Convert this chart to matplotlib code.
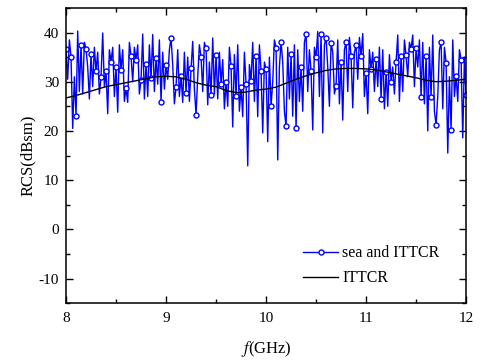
import numpy as np
import matplotlib
matplotlib.use("Agg")
import matplotlib.pyplot as plt
from matplotlib.ticker import MultipleLocator

plt.rcParams['font.family'] = ['Liberation Serif', 'DejaVu Serif']
plt.rcParams['mathtext.fontset'] = 'stix'
plt.rcParams['axes.unicode_minus'] = False

# Frequency grid for the noisy series (GHz): markers every 0.05 GHz,
# two samples between consecutive markers
f_start, marker_step = 8.0, 0.05

# Values at marker positions (every 0.05 GHz)
sea_marked = [36.7, 35.0, 23.1, 37.5, 36.7, 35.6, 32.1, 31.0, 32.1, 34.1,
              33.0, 32.4, 28.7, 35.2, 34.4, 30.4, 33.6, 30.7, 34.8, 25.9,
              33.3, 38.9, 29.0, 31.2, 27.7, 32.7, 23.3, 35.1, 36.8, 27.3,
              35.4, 29.5, 30.0, 33.1, 27.1, 29.0, 29.6, 30.1, 35.3, 32.2,
              32.6, 25.1, 36.9, 38.1, 20.9, 35.6, 20.5, 33.0, 39.7, 32.1,
              35.0, 39.8, 38.9, 37.8, 29.2, 34.1, 38.1, 35.2, 37.4, 35.2,
              31.8, 32.6, 34.6, 26.5, 32.0, 30.0, 34.1, 35.3, 35.4, 36.7,
              36.8, 26.9, 35.3, 26.9, 21.2, 38.0, 33.9, 20.2, 31.2, 34.5,
              27.2]
# First sample after each marker
sea_mid_a = [30.5, 20.5, 40.3, 27.5, 33.0, 29.0, 36.0, 39.9, 23.5, 37.0,
             23.8, 36.5, 25.8, 30.0, 37.5, 39.7, 27.0, 39.6, 29.5, 36.0,
             30.5, 33.5, 36.5, 25.8, 35.0, 38.2, 31.0, 28.0, 25.3, 38.9,
             26.5, 34.5, 25.0, 20.8, 37.5, 22.9, 12.9, 38.0, 22.9, 19.6,
             17.8, 30.0, 14.1, 34.0, 37.0, 23.0, 36.5, 24.0, 28.0, 20.2,
             40.2, 19.6, 33.0, 36.0, 38.5, 22.2, 28.0, 24.7, 30.5, 39.8,
             23.5, 36.0, 29.0, 36.5, 25.0, 33.0, 39.5, 28.0, 31.0, 39.5,
             33.0, 38.0, 20.0, 39.5, 27.0, 24.5, 15.5, 38.5, 26.0, 18.6]
# Second sample after each marker
sea_mid_b = [38.5, 31.0, 28.0, 38.0, 26.5, 37.0, 27.5, 29.0, 36.5, 27.0,
             37.5, 26.0, 38.0, 37.0, 27.5, 26.5, 37.5, 28.0, 38.5, 28.5,
             36.5, 25.5, 27.0, 36.0, 26.0, 28.5, 37.5, 38.0, 34.0, 27.5,
             36.0, 24.5, 37.0, 35.5, 24.0, 36.0, 33.5, 26.0, 37.5, 34.0,
             35.0, 38.5, 33.0, 24.0, 26.5, 37.5, 26.0, 38.0, 36.5, 37.0,
             27.0, 37.5, 25.0, 27.5, 25.5, 36.5, 39.0, 36.0, 39.0, 27.0,
             36.5, 28.0, 37.0, 24.5, 35.5, 27.5, 26.0, 38.5, 38.0, 29.0,
             38.5, 25.5, 37.0, 24.0, 36.5, 37.0, 31.0, 27.0, 36.5, 35.0]

# ITTCR curve, every 0.1 GHz
ittcr_f = [8.0 + 0.1 * i for i in range(41)]
ittcr_v = [26.7, 27.2, 27.8, 28.4, 29.0, 29.4, 29.8, 30.2, 30.6, 31.0,
           31.1, 31.0, 30.5, 29.8, 29.3, 29.0, 28.2, 27.8, 27.9, 28.3,
           28.5, 28.9, 29.7, 30.5, 31.2, 31.8, 32.3, 32.6, 32.7, 32.7,
           32.6, 32.4, 32.0, 31.6, 31.2, 30.8, 30.3, 30.0, 30.1, 30.3,
           30.5]

sea_v = []
for i in range(len(sea_marked)):
    sea_v.append(sea_marked[i])
    if i < len(sea_mid_a):
        sea_v.append(sea_mid_a[i])
        sea_v.append(sea_mid_b[i])
sea_f = [f_start + marker_step / 3 * i for i in range(len(sea_v))]

fig = plt.figure(figsize=(4.82, 3.6), dpi=100)
ax = fig.add_axes([0.137, 0.158, 0.830, 0.820])

ax.plot(sea_f, sea_v, color='#0000ff', lw=1.0, marker='o', markevery=3,
        markersize=3.6, markerfacecolor='white', markeredgecolor='#0000ff',
        markeredgewidth=1.0, label='sea and ITTCR')
ax.plot(ittcr_f, ittcr_v, color='black', lw=1.0, label='ITTCR')

ax.set_xlim(8, 12)
ax.set_ylim(-15, 45)
ax.xaxis.set_major_locator(MultipleLocator(1))
ax.xaxis.set_minor_locator(MultipleLocator(0.5))
ax.yaxis.set_major_locator(MultipleLocator(10))
ax.yaxis.set_minor_locator(MultipleLocator(5))
ax.tick_params(which='both', direction='in', top=True, right=True, labelsize=11)
ax.tick_params(which='major', length=5, width=1)
ax.tick_params(which='minor', length=3, width=1)
ax.tick_params(axis='x', which='major', pad=6.5)
ax.tick_params(axis='y', which='major', pad=5)
for s in ax.spines.values():
    s.set_linewidth(1.1)

ax.set_yticks([-10, 0, 10, 20, 30, 40])
ax.set_xlabel(r'$f$(GHz)', fontsize=12, labelpad=10)
ax.set_ylabel('RCS(dBsm)', fontsize=12, labelpad=2)

leg = ax.legend(loc='upper left', bbox_to_anchor=(0.577, 0.217), frameon=False,
                fontsize=11.4, handlelength=2.2, handletextpad=0.25,
                labelspacing=0.55, borderaxespad=0)

fig.savefig('out.png', dpi=100)
